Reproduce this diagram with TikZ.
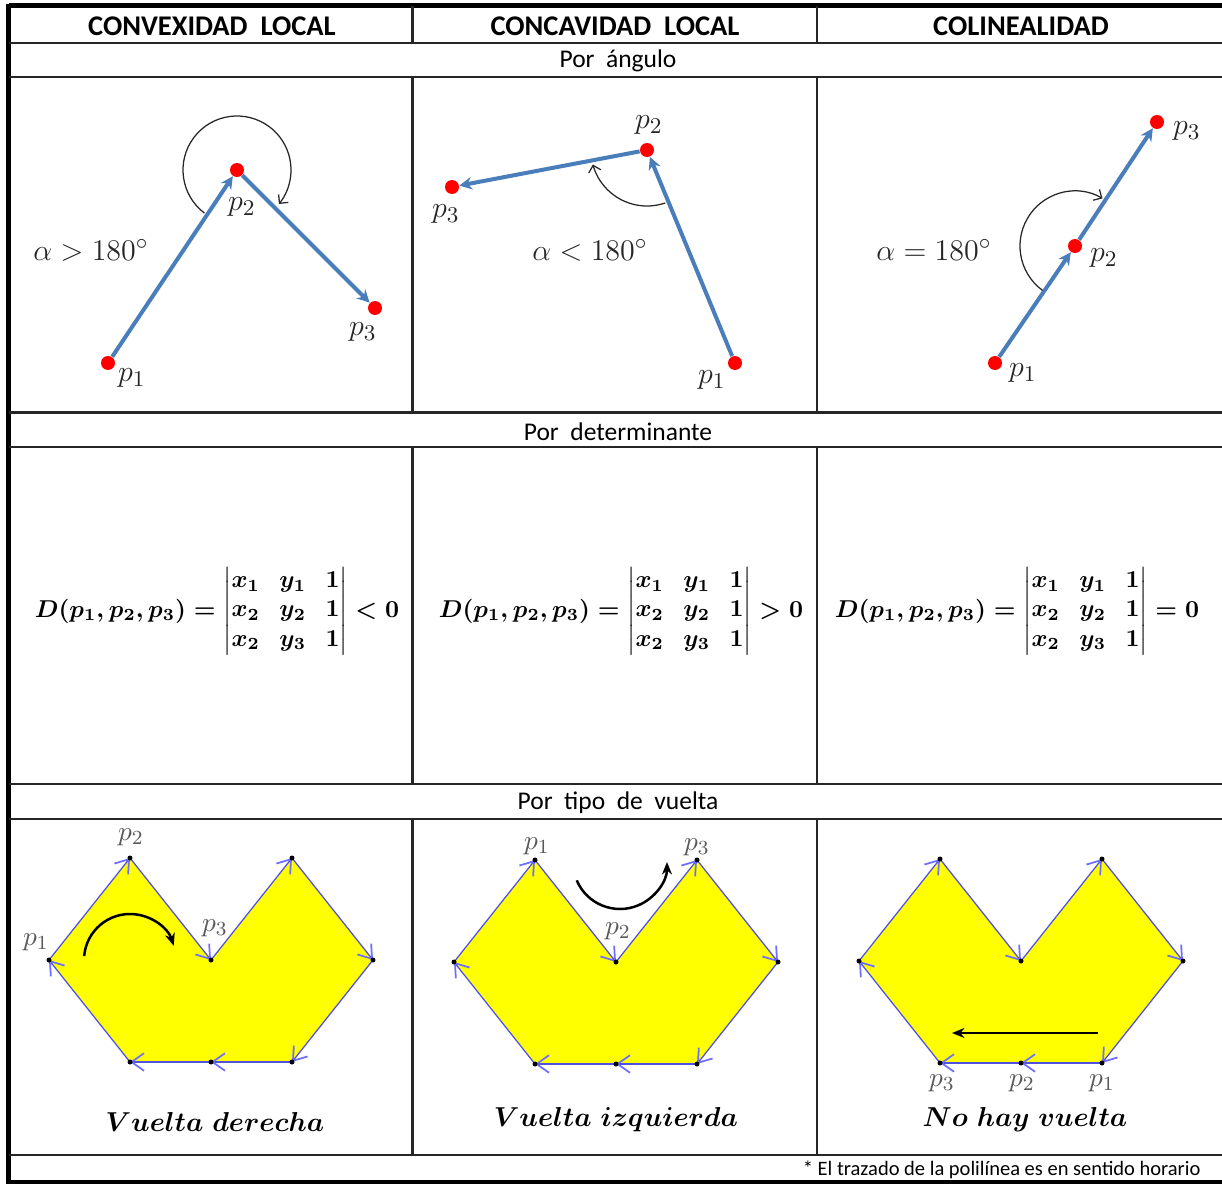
\documentclass[tikz,border=0pt]{standalone}
\usepackage{amsmath}
\usepackage{fontspec}
\newfontfamily\calibri{Carlito}
\usetikzlibrary{arrows.meta}
\definecolor{vecblue}{RGB}{74,126,187}
\definecolor{edgeblue}{RGB}{80,80,225}
\definecolor{tipblue}{RGB}{110,110,255}
\definecolor{polyyellow}{RGB}{255,255,0}
\newsavebox\detlt
\newsavebox\detgt
\newsavebox\deteq
\newsavebox\capder
\newsavebox\capizq
\newsavebox\capnon
\newcommand\detmat{\begin{vmatrix}x_1&y_1&1\\x_2&y_2&1\\x_2&y_3&1\end{vmatrix}}

\begin{document}
\sbox\detlt{\arraycolsep=4pt\boldmath$D(p_1,p_2,p_3)=\detmat<0$}
\sbox\detgt{\arraycolsep=4pt\boldmath$D(p_1,p_2,p_3)=\detmat>0$}
\sbox\deteq{\arraycolsep=4pt\boldmath$D(p_1,p_2,p_3)=\detmat=0$}
\sbox\capder{\fontsize{11}{13}\selectfont\boldmath$Vuelta\ derecha$}
\sbox\capizq{\fontsize{11}{13}\selectfont\boldmath$Vuelta\ izquierda$}
\sbox\capnon{\fontsize{11}{13}\selectfont\boldmath$No\ hay\ vuelta$}
\begin{tikzpicture}[x=0.4pt, y=-0.4pt,
        frame/.style={draw=black, line width=1.8pt},
        rule/.style={draw=black!85, line width=1pt},
        head/.style={font=\calibri\bfseries\fontsize{11.4}{13}\selectfont},
        rowtitle/.style={font=\calibri\fontsize{10.2}{12}\selectfont},
        note/.style={font=\calibri\fontsize{8.2}{10}\selectfont, inner sep=0pt},
        pt/.style={circle, fill=red, inner sep=0pt, minimum size=5.6pt},
        vec/.style={draw=vecblue, line width=1.6pt, -{Stealth[length=5pt,width=5pt]}},
        angarr/.style={draw=black!85, line width=0.5pt, -{Straight Barb[length=2.5pt,width=5pt]}},
        mlabel/.style={font=\fontsize{13}{15}\selectfont, text=black!85, inner sep=0pt},
        formula/.style={scale=0.975},
        polyfill/.style={fill=polyyellow},
        polyedge/.style={draw=edgeblue, line width=0.5pt, -{Straight Barb[length=5pt,width=7pt,color=tipblue,line width=0.7pt]}},
        vtx/.style={circle, fill=black, inner sep=0pt, minimum size=2pt},
        plabel/.style={font=\fontsize{11}{13}\selectfont, text=black!65, inner sep=0pt},
        turnarr/.style={draw=black, line width=1pt, -{Stealth[length=5pt,width=4pt]}}
    ]
    \useasboundingbox (0,0) rectangle (1222,1186);

    % Tabla
    \draw[frame] (8.5,5.5) -- (1222,5.5);
    \draw[frame] (8.5,3.5) -- (8.5,1184);
    \draw[frame] (8.5,1182) -- (1222,1182);
    \foreach \y in {43,77,412.5,447,784,819,1155}
        \draw[rule] (8.5,\y) -- (1222,\y);
    \foreach \x in {412.5,817} {
        \draw[rule] (\x,5.5) -- (\x,43);
        \draw[rule] (\x,77) -- (\x,412.5);
        \draw[rule] (\x,447) -- (\x,784);
        \draw[rule] (\x,819) -- (\x,1155);
    }

    % Titulos
    \node[head] (h1) at (212,26) {CONVEXIDAD\ \ LOCAL};
    \node[head] (h2) at (615,26) {CONCAVIDAD\ \ LOCAL};
    \node[head] (h3) at (1021,26) {COLINEALIDAD};
    \node[rowtitle] (r1) at (618,61) {Por\ \ ángulo};
    \node[rowtitle] (r2) at (618,432) {Por\ \ determinante};
    \node[rowtitle] (r3) at (618,803) {Por\ \ tipo\ \ de\ \ vuelta};
    \node[note, anchor=east] (fn) at (1201,1170) {* El trazado de la polilínea es en sentido horario};

    % Por angulo
    \node[pt] (p11) at (108,363) {};
    \node[pt] (p12) at (237,170) {};
    \node[pt] (p13) at (375,308) {};
    \draw[vec] (p11) -- (p12);
    \draw[vec] (p12) -- (p13);
    \draw[angarr] ([shift={(-233:54)}]p12.center) arc[start angle=-233, end angle=39, radius=54];
    \node[mlabel] (l11) at (132,378) {$p_1$};
    \node[mlabel] (l12) at (242,207) {$p_2$};
    \node[mlabel] (l13) at (363,332) {$p_3$};
    \node[mlabel] (alpha1) at (91,250) {$\alpha>180^\circ$};

    \node[pt] (p21) at (735,363) {};
    \node[pt] (p22) at (647,150) {};
    \node[pt] (p23) at (452,187) {};
    \draw[vec] (p21) -- (p22);
    \draw[vec] (p22) -- (p23);
    \draw[angarr] ([shift={(-289:56)}]p22.center) arc[start angle=-289, end angle=-195, radius=56];
    \node[mlabel] (l21) at (712,380) {$p_1$};
    \node[mlabel] (l22) at (649,125) {$p_2$};
    \node[mlabel] (l23) at (446,214) {$p_3$};
    \node[mlabel] (alpha2) at (590,250) {$\alpha<180^\circ$};

    \node[pt] (p31) at (995,363) {};
    \node[pt] (p32) at (1075,246) {};
    \node[pt] (p33) at (1157,122) {};
    \draw[vec] (p31) -- (p32);
    \draw[vec] (p32) -- (p33);
    \draw[angarr] ([shift={(-234:55)}]p32.center) arc[start angle=-234, end angle=-60, radius=55];
    \node[mlabel] (l31) at (1023,373) {$p_1$};
    \node[mlabel] (l32) at (1104,258) {$p_2$};
    \node[mlabel] (l33) at (1187,131) {$p_3$};
    \node[mlabel] (alpha3) at (934,250) {$\alpha=180^\circ$};

    % Por determinante
    \node[formula] (f1) at (217,611) {\usebox\detlt};
    \node[formula] (f2) at (621,611) {\usebox\detgt};
    \node[formula] (f3) at (1017,611) {\usebox\deteq};

    % Por tipo de vuelta
    \foreach \k/\cx/\cy in {a/211/960, b/616/962, c/1021/961} {
        \coordinate (q\k1) at (\cx-162,\cy);
        \coordinate (q\k2) at (\cx-81,\cy-102);
        \coordinate (q\k3) at (\cx,\cy);
        \coordinate (q\k4) at (\cx+81,\cy-102);
        \coordinate (q\k5) at (\cx+162,\cy);
        \coordinate (q\k6) at (\cx+81,\cy+102);
        \coordinate (q\k7) at (\cx,\cy+102);
        \coordinate (q\k8) at (\cx-81,\cy+102);
        \fill[polyfill] (q\k1) -- (q\k2) -- (q\k3) -- (q\k4) -- (q\k5) -- (q\k6) -- (q\k7) -- (q\k8) -- cycle;
        \foreach \j [remember=\j as \i (initially 8)] in {1,...,8}
            \draw[polyedge] (q\k\i) -- (q\k\j);
        \foreach \j in {1,...,8}
            \node[vtx] (d\k\j) at (q\k\j) {};
    }

    \node[plabel] (la1) at (36,942) {$p_1$};
    \node[plabel] (la2) at (131,837) {$p_2$};
    \node[plabel] (la3) at (215,928) {$p_3$};
    \coordinate (ta) at (130,960);
    \draw[turnarr] ([shift={(-175:46)}]ta) arc[start angle=-175, end angle=-18, radius=46];
    \node (ca) at (215,1122) {\usebox\capder};

    \node[plabel] (lb1) at (537,846) {$p_1$};
    \node[plabel] (lb2) at (618,931) {$p_2$};
    \node[plabel] (lb3) at (697,847) {$p_3$};
    \coordinate (tb) at (620,862);
    \draw[turnarr] ([shift={(-203:47)}]tb) arc[start angle=-203, end angle=-360, radius=47];
    \node (cb) at (616,1120) {\usebox\capizq};

    \node[plabel] (lc3) at (942,1083) {$p_3$};
    \node[plabel] (lc2) at (1022,1083) {$p_2$};
    \node[plabel] (lc1) at (1102,1083) {$p_1$};
    \coordinate (s1) at (1098,1033);
    \coordinate (s2) at (952,1033);
    \draw[turnarr] (s1) -- (s2);
    \node (cc) at (1025,1120) {\usebox\capnon};

\end{tikzpicture}
\end{document}
